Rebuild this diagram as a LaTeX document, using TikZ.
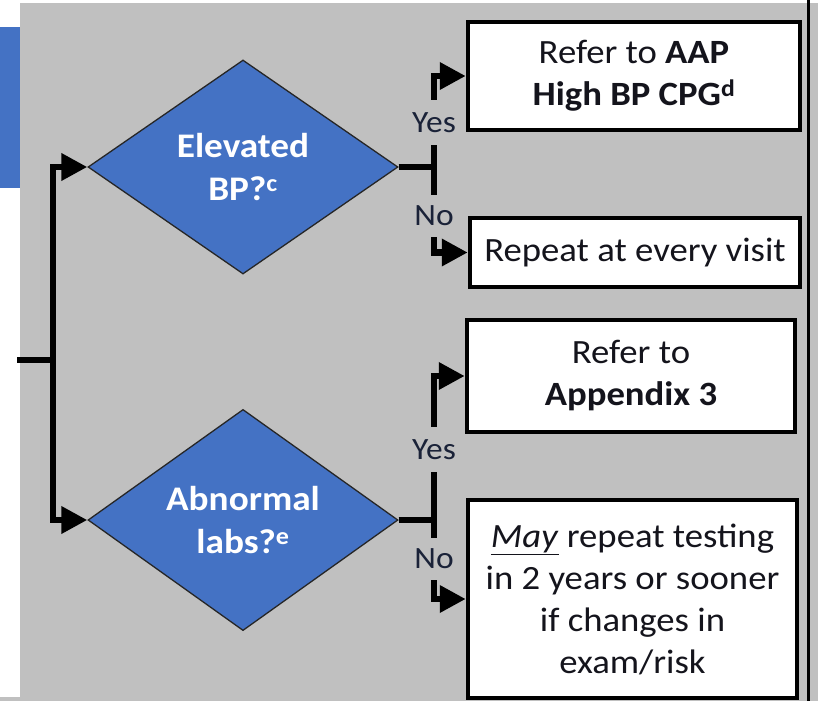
\documentclass[tikz,border=0pt]{standalone}
\usepackage{fontspec}
\setmainfont{Carlito}[FakeStretch=1.08]
\usetikzlibrary{arrows.meta,shapes.geometric}
\definecolor{bggray}{RGB}{192,192,192}
\definecolor{dblue}{RGB}{68,114,196}
\definecolor{txt}{RGB}{20,20,28}
\definecolor{lbl}{RGB}{26,34,56}
\tikzset{
  decision/.style={diamond, draw=black!85, line width=1.3pt, fill=dblue, minimum width=310pt, minimum height=214pt, inner sep=0pt, text=white, align=center, font=\fontsize{34.5}{43}\selectfont\bfseries},
  outbox/.style={rectangle, draw=black, line width=4.5pt, fill=white, inner sep=0pt, text=txt, align=center, font=\fontsize{34}{42}\selectfont},
  conn/.style={line width=6.5pt, draw=black},
  arr/.style={conn, -{Triangle[length=26pt,width=26pt]}},
  yesno/.style={fill=bggray, text=lbl, inner sep=0pt, minimum width=46pt, font=\fontsize{31}{36}\selectfont}
}
\begin{document}
\begin{tikzpicture}[x=1pt,y=-1pt]
\useasboundingbox (0,0) rectangle (818,701);
% background
\fill[white] (0,0) rectangle (818,701);
\fill[bggray] (20,3) rectangle (818,701);
\fill[bggray] (0,697) rectangle (20,701);
\fill[dblue] (0,27) rectangle (20,188);
\draw[line width=3pt] (808,0) -- (808,701);

% decisions
\node[decision] (d1) at (243,167) {Elevated\\BP?\textsuperscript{c}};
\node[decision] (d2) at (243,520) {Abnormal\\labs?\textsuperscript{e}};

% outcome boxes
\node[outbox, minimum width=332pt, minimum height=108pt] (b1) at (634,76) {Refer to \textbf{AAP}\\\textbf{High BP CPG\textsuperscript{d}}};
\node[outbox, minimum width=330pt, minimum height=69pt] (b2) at (635,252.5) {Repeat at every visit};
\node[outbox, minimum width=328pt, minimum height=112pt] (b3) at (631,376) {Refer to\\\textbf{Appendix 3}};
\node[outbox, minimum width=329pt, minimum height=198pt] (b4) at (632.5,599) {\underline{\textit{May}} repeat testing\\in 2 years or sooner\\if changes in\\exam/risk};

% trunk
\coordinate (in) at (17,360);
\coordinate (tr) at (53,360);
\coordinate (j1) at (434,167);
\coordinate (j2) at (434,520);
\draw[conn] (in) -- (tr);
\draw[arr] (tr) |- (d1.west);
\draw[arr] (tr) |- (d2.west);

% branches
\draw[arr] (d1.east) -- (j1) |- (b1.west);
\draw[arr] (d1.east) -- (j1) |- (b2.west);
\draw[arr] (d2.east) -- (j2) |- (b3.west);
\draw[arr] (d2.east) -- (j2) |- (b4.west);

% labels
\node[yesno, minimum height=45pt] (y1) at (434,122.5) {Yes};
\node[yesno, minimum height=42pt] (n1) at (434,216) {No};
\node[yesno, minimum height=45pt] (y2) at (434,449.5) {Yes};
\node[yesno, minimum height=42pt] (n2) at (434,559) {No};
\end{tikzpicture}
\end{document}
